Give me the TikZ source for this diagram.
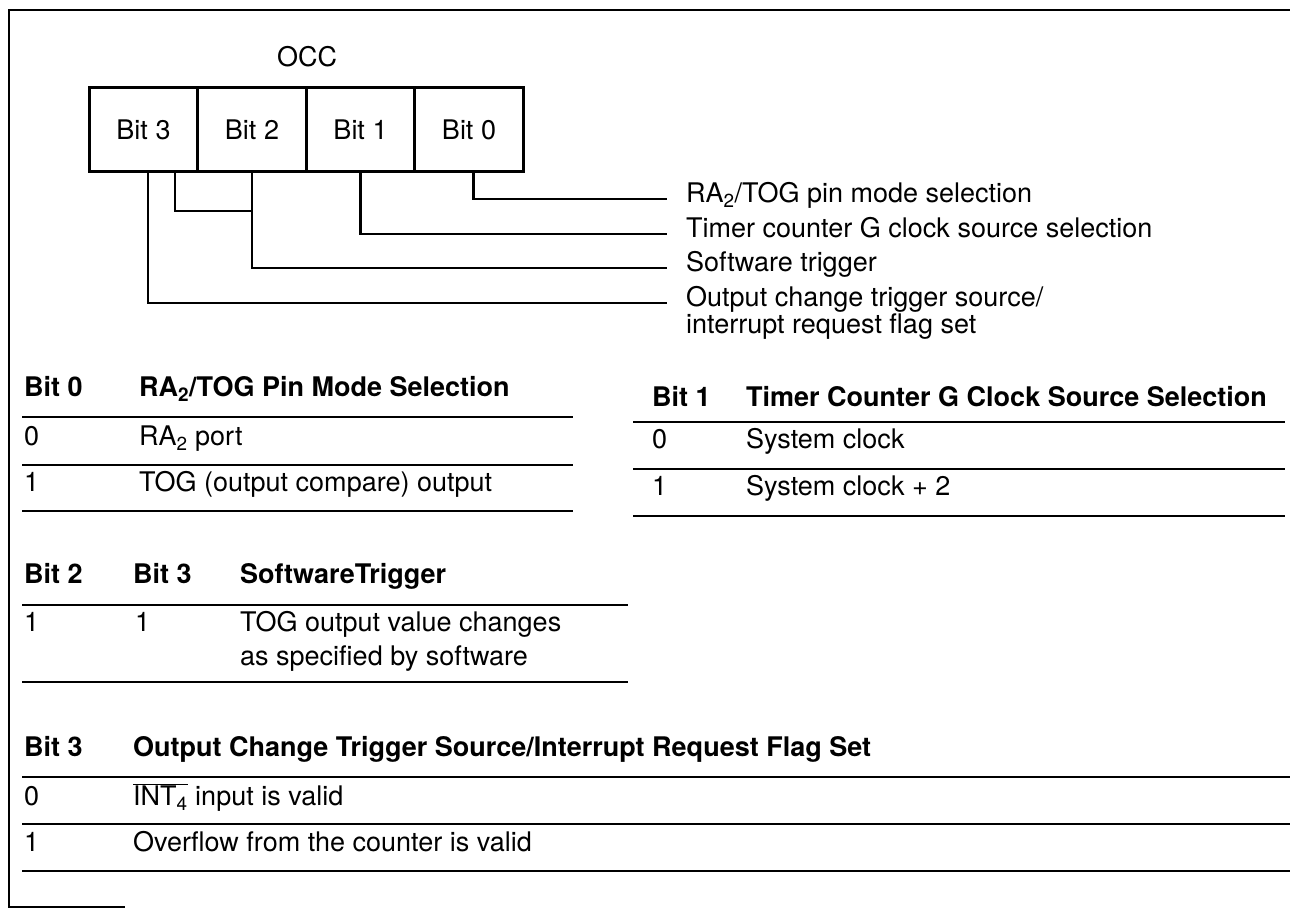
\documentclass[tikz,border=0pt]{standalone}
\usepackage{fontspec}
\setmainfont{TeX Gyre Heros}
\usetikzlibrary{positioning}

\begin{document}
\begin{tikzpicture}[
    x=1pt, y=-1pt,
    font=\fontsize{27}{32}\selectfont,
    bitcell/.style={rectangle, draw=black, line width=3pt, minimum width=108.5pt, minimum height=84pt, inner sep=0pt, outer sep=0pt},
    wire/.style={line width=2.8pt},
    rule/.style={line width=2.4pt},
    lbl/.style={anchor=west, inner xsep=19pt, inner ysep=0pt, text height=0.72em, text depth=0pt},
    cell/.style={anchor=west, inner sep=0pt, text height=0.72em, text depth=0pt},
    head/.style={cell, font=\fontsize{27}{32}\selectfont\bfseries}
]
\useasboundingbox (0,0) rectangle (1290,909);
\draw[line width=1.8pt] (1290,10) -- (9,10) -- (9,907) -- (125,907);

\node (occ) at (307,57) {OCC};
\node (b3) [bitcell] at (143.5,130) {Bit 3};
\node (b2) [bitcell, right=0pt of b3] {Bit 2};
\node (b1) [bitcell, right=0pt of b2] {Bit 1};
\node (b0) [bitcell, right=0pt of b1] {Bit 0};

\node (l0) [lbl] at (667,199) {RA\textsubscript{2}/TOG pin mode selection};
\node (l1) [lbl] at (667,234) {Timer counter G clock source selection};
\node (l2) [lbl] at (667,268) {Software trigger};
\node (l3) [lbl] at (667,303) {Output change trigger source/};
\node (l3x) [lbl] at (667,330) {interrupt request flag set};

\draw[wire] ([xshift=4.5pt]b0.south) |- (l0.west);
\draw[wire] (b1.south) |- (l1.west);
\draw[wire] (b2.south) |- (l2.west);
\draw[wire] ([xshift=31.5pt]b3.south) |- ([yshift=-39pt]b2.south);
\draw[wire] ([xshift=4.5pt]b3.south) |- (l3.west);

\node (pm0) [head] at (24,393) {Bit 0};
\node (pm) [head] at (139,393) {RA\textsubscript{2}/TOG Pin Mode Selection};
\node (pm00) [cell] at (24,442) {0};
\node (pm01) [cell] at (139,442) {RA\textsubscript{2} port};
\node (pm10) [cell] at (24,488) {1};
\node (pm11) [cell] at (139,488) {TOG (output compare) output};
\foreach \y in {417,465,511} \draw[rule] (22,\y) -- (573,\y);

\node (cs1) [head] at (652,403) {Bit 1};
\node (cs) [head] at (746,403) {Timer Counter G Clock Source Selection};
\node (cs00) [cell] at (652,445) {0};
\node (cs01) [cell] at (746,445) {System clock};
\node (cs10) [cell] at (652,492) {1};
\node (cs11) [cell] at (746,492) {System clock + 2};
\foreach \y in {422,469,516} \draw[rule] (633,\y) -- (1285,\y);

\node (st2) [head] at (24,580) {Bit 2};
\node (st3) [head] at (133,580) {Bit 3};
\node (st) [head] at (240,580) {SoftwareTrigger};
\node (st00) [cell] at (24,628) {1};
\node (st01) [cell] at (135,628) {1};
\node (st02) [cell] at (240,628) {TOG output value changes};
\node (st03) [cell] at (240,662) {as specified by software};
\foreach \y in {605,682} \draw[rule] (22,\y) -- (628,\y);

\node (ir3) [head] at (24,753) {Bit 3};
\node (ir) [head] at (133,753) {Output Change Trigger Source/Interrupt Request Flag Set};
\node (ir00) [cell] at (24,802) {0};
\node (ir01) [cell] at (133,802) {$\overline{\hbox{INT\textsubscript{4}}}$ input is valid};
\node (ir10) [cell] at (24,848) {1};
\node (ir11) [cell] at (133,848) {Overflow from the counter is valid};
\foreach \y in {777,824,871} \draw[rule] (22,\y) -- (1290,\y);

\end{tikzpicture}
\end{document}
